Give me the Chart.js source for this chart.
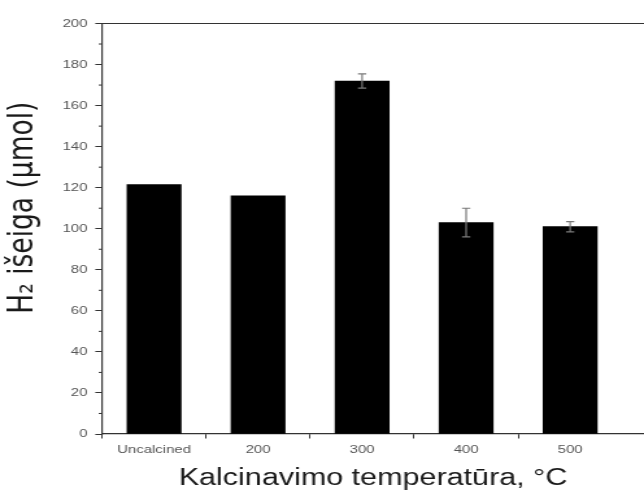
<!DOCTYPE html>
<html lang="lt">

<head>
    <meta charset="UTF-8">
    <title>H2 išeiga</title>
    <script src="https://cdn.jsdelivr.net/npm/chart.js"></script>
    <style>
        html, body { margin: 0; padding: 0; background: #fff; overflow: hidden; }
        /* the figure is drawn narrow and widened to the page width */
        .plot { width: 496px; height: 495px; transform: scaleX(1.2984); transform-origin: 0 0; }
    </style>
</head>

<body>
    <div class="plot">
        <canvas id="grafikas" width="496" height="495"></canvas>
    </div>

    <script>
        // kategorijos ir vertės
        const temperaturos = ['Uncalcined', '200', '300', '400', '500'];
        const isvestis = [121.5, 116, 172, 103, 101];
        const paklaidos = [0, 0, 3.5, 7, 2.5];
        const yTicks = [0, 20, 40, 60, 80, 100, 120, 140, 160, 180, 200];
        // x ašies žymos: sveiki skaičiai – pavadinimai, pusės – brūkšneliai
        const xTicks = [0.5, 1, 1.5, 2, 2.5, 3, 3.5, 4, 4.5, 5];

        const sriftas = "'Liberation Sans', Arial, sans-serif";

        // paklaidų stulpeliai
        const paklaiduPlugin = {
            id: 'paklaidos',
            afterDatasetsDraw(chart) {
                const ctx = chart.ctx;
                const y = chart.scales.y;
                const meta = chart.getDatasetMeta(0);
                ctx.save();
                ctx.strokeStyle = '#7a7a7a';
                ctx.lineWidth = 1.2;
                meta.data.forEach((bar, i) => {
                    const e = paklaidos[i];
                    if (!e) return;
                    const top = y.getPixelForValue(isvestis[i] + e);
                    const bot = y.getPixelForValue(isvestis[i] - e);
                    ctx.beginPath();
                    ctx.moveTo(bar.x, top);
                    ctx.lineTo(bar.x, bot);
                    ctx.moveTo(bar.x - 3.2, top);
                    ctx.lineTo(bar.x + 3.2, top);
                    ctx.moveTo(bar.x - 3.2, bot);
                    ctx.lineTo(bar.x + 3.2, bot);
                    ctx.stroke();
                });
                ctx.restore();
            }
        };

        // viršutinis rėmelis ir smulkios y ašies žymos
        const remelis = {
            id: 'remelis',
            afterDraw(chart) {
                const ctx = chart.ctx;
                const a = chart.chartArea;
                const y = chart.scales.y;
                ctx.save();
                ctx.strokeStyle = '#333';
                ctx.lineWidth = 1.2;
                ctx.beginPath();
                ctx.moveTo(a.left, a.top);
                ctx.lineTo(a.right, a.top);
                ctx.stroke();
                ctx.lineWidth = 1;
                ctx.beginPath();
                for (let v = 10; v < 200; v += 20) {
                    const py = y.getPixelForValue(v);
                    ctx.moveTo(a.left - 2.6, py);
                    ctx.lineTo(a.left, py);
                }
                ctx.stroke();
                ctx.restore();
            }
        };

        new Chart(document.getElementById('grafikas'), {
            type: 'bar',
            data: {
                datasets: [{
                    data: isvestis.map((v, i) => ({ x: i + 1, y: v })),
                    backgroundColor: '#000',
                    borderWidth: 0,
                    barThickness: 41.6
                }]
            },
            options: {
                responsive: false,
                animation: false,
                layout: { padding: { top: 23.5, right: 0, bottom: 0, left: 0 } },
                plugins: {
                    legend: { display: false },
                    tooltip: { enabled: false }
                },
                scales: {
                    x: {
                        type: 'linear',
                        bounds: 'data',
                        offset: false,
                        min: 0.5,
                        max: 5.71,
                        afterFit(scale) { scale.height = 61; },
                        afterBuildTicks(scale) { scale.ticks = xTicks.map(v => ({ value: v })); },
                        grid: {
                            offset: false,
                            drawOnChartArea: false,
                            tickLength: 4.5,
                            tickColor: (c) => (c.tick && !Number.isInteger(c.tick.value)) ? '#333' : 'rgba(0,0,0,0)'
                        },
                        border: { display: true, color: '#333', width: 1.2 },
                        ticks: {
                            autoSkip: false,
                            maxRotation: 0,
                            padding: 4,
                            color: '#555',
                            font: { family: sriftas, size: 11.5 },
                            callback: (v) => Number.isInteger(v) ? (temperaturos[v - 1] || '') : ''
                        },
                        title: {
                            display: true,
                            text: 'Kalcinavimo temperatūra, °C',
                            color: '#1a1a1a',
                            font: { family: sriftas, size: 23.5 },
                            padding: { top: 0, bottom: 2 }
                        }
                    },
                    y: {
                        min: 0,
                        max: 200,
                        afterFit(scale) { scale.width = 78.6; },
                        afterBuildTicks(scale) { scale.ticks = yTicks.map(v => ({ value: v })); },
                        grid: {
                            drawOnChartArea: false,
                            tickLength: 5.2,
                            tickColor: '#333'
                        },
                        border: { display: true, color: '#333', width: 1.2 },
                        ticks: {
                            padding: 6,
                            color: '#555',
                            font: { family: sriftas, size: 11.5 }
                        },
                        title: {
                            display: true,
                            text: '     H₂ išeiga (μmol)',
                            color: '#1a1a1a',
                            font: { family: "'DejaVu Sans', sans-serif", size: 26.5 },
                            padding: { top: 2, bottom: 0 }
                        }
                    }
                }
            },
            plugins: [paklaiduPlugin, remelis]
        });
    </script>
</body>

</html>
